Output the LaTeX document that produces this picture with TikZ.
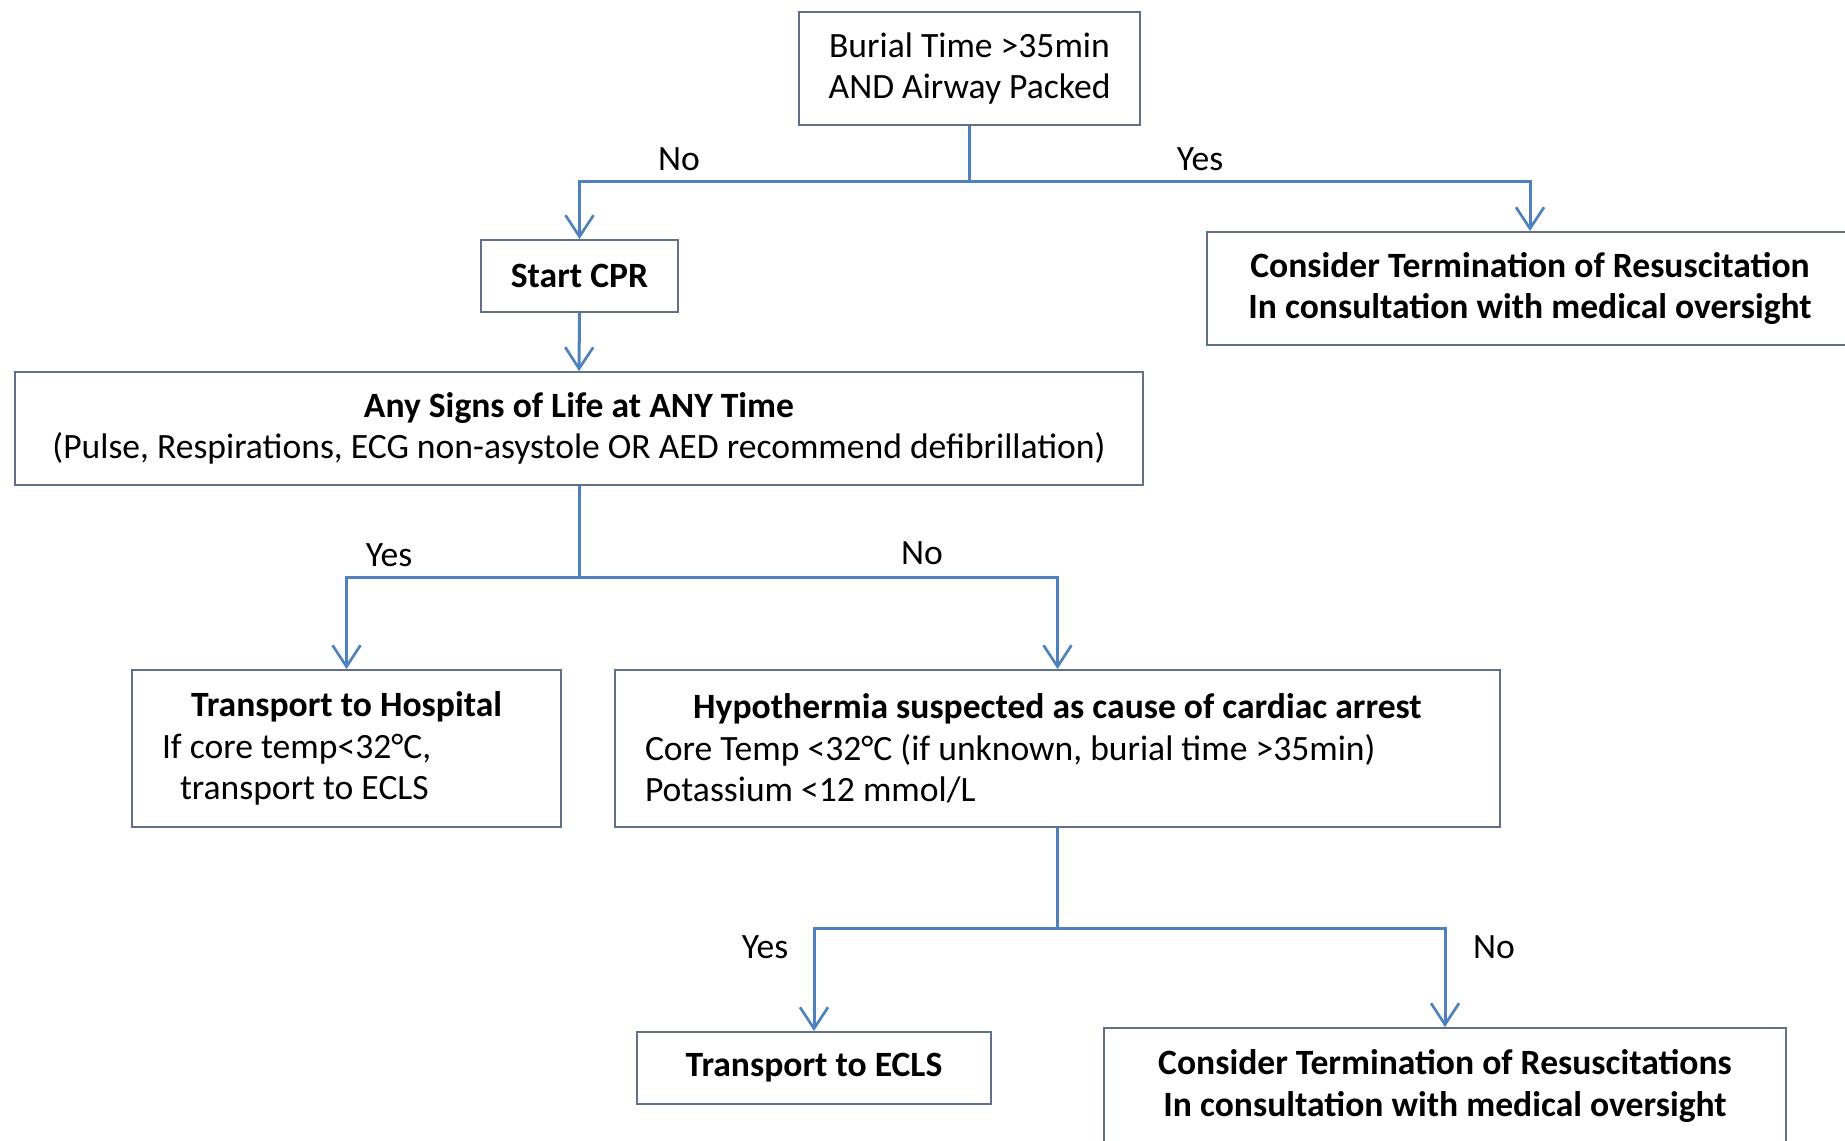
\documentclass[tikz,border=0pt]{standalone}
\usepackage{fontspec}
\setmainfont{Carlito}
\usetikzlibrary{arrows.meta}

\definecolor{boxc}{RGB}{98,112,135}
\definecolor{linkc}{RGB}{79,129,189}

\tikzset{every picture/.style={line width=0.75pt}}
\tikzset{
  box/.style={draw=boxc, line width=1.5pt, inner sep=0pt, align=center,
    font=\fontsize{26.7}{31}\selectfont},
  link/.style={draw=linkc, line width=2.25pt},
  arr/.style={link, -{Straight Barb[length=16pt,width=21pt,line width=2pt]}},
  lbl/.style={font=\fontsize{26.7}{31}\selectfont}
}

\begin{document}
\begin{tikzpicture}[x=0.75pt,y=0.75pt,yscale=-1,xscale=1]
\useasboundingbox (0,0) rectangle (1845,1141);

% Boxes
\draw (969.5,68.5) node [box, minimum width=255.75pt, minimum height=84.75pt] (burial) {Burial Time >35min\\AND Airway Packed};
\draw (579.5,276) node [box, minimum width=147.75pt, minimum height=54pt] (cpr) {\bfseries Start CPR};
\draw (1530,288.5) node [box, minimum width=484.5pt, minimum height=84.75pt] (term1) {\bfseries Consider Termination of Resuscitation\\\bfseries In consultation with medical oversight};
\draw (579,428.5) node [box, minimum width=846pt, minimum height=84.75pt] (signs) {\bfseries Any Signs of Life at ANY Time\\(Pulse, Respirations, ECG non-asystole OR AED recommend defibrillation)};
\draw (346.5,748.5) node [box, minimum width=321.75pt, minimum height=117.75pt] (hosp) {\makebox[321.75pt][c]{\bfseries Transport to Hospital}\\\makebox[321.75pt][l]{\hspace*{22.5pt}If core temp<32°C,}\\\makebox[321.75pt][l]{\hspace*{36pt}transport to ECLS}};
\draw (1057.5,748.5) node [box, minimum width=663.75pt, minimum height=117.75pt] (hypo) {\makebox[663.75pt][c]{\bfseries Hypothermia suspected as cause of cardiac arrest}\\\makebox[663.75pt][l]{\hspace*{22.5pt}Core Temp <32°C (if unknown, burial time >35min)}\\\makebox[663.75pt][l]{\hspace*{22.5pt}Potassium <12 mmol/L}};
\draw (814,1068) node [box, minimum width=265.5pt, minimum height=54pt] (ecls) {\bfseries Transport to ECLS};
\draw (1445,1086) node [box, minimum width=511.5pt, minimum height=87pt] (term2) {\bfseries Consider Termination of Resuscitations\\\bfseries In consultation with medical oversight};

% Junctions
\coordinate (j1) at (969.5,182);
\coordinate (j2) at (579,577);
\coordinate (j3) at (1057.5,928);

% Connectors
\draw [link] (burial.south) -- (j1);
\draw [arr] (j1) -| (cpr.north);
\draw [arr] (j1) -| (term1.north);
\draw [arr] (cpr.south) -- (signs.north);
\draw [link] (signs.south) -- (j2);
\draw [arr] (j2) -| (hosp.north);
\draw [arr] (j2) -| (hypo.north);
\draw [link] (hypo.south) -- (j3);
\draw [arr] (j3) -| (ecls.north);
\draw [arr] (j3) -| (term2.north);

% Text Node
\draw (679,159) node [lbl] (no1) {No};
% Text Node
\draw (1200,159) node [lbl] (yes1) {Yes};
% Text Node
\draw (389,555) node [lbl] (yes2) {Yes};
% Text Node
\draw (922,553) node [lbl] (no2) {No};
% Text Node
\draw (765,947) node [lbl] (yes3) {Yes};
% Text Node
\draw (1494,947) node [lbl] (no3) {No};

\end{tikzpicture}
\end{document}
